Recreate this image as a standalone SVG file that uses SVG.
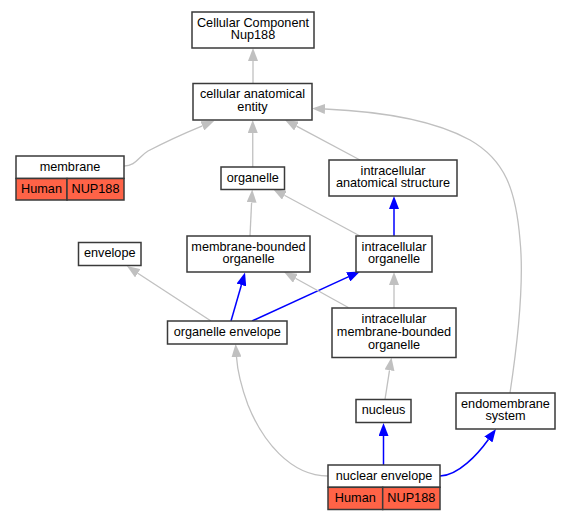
<svg xmlns="http://www.w3.org/2000/svg" width="571" height="520" viewBox="0 0 571 520">
<style>
.box{fill:#ffffff;stroke:#3a3a3a;stroke-width:1.5}
.red{fill:#ff6347;stroke:#3a3a3a;stroke-width:1.5}
text{font-family:"Liberation Sans",Arial,sans-serif;font-size:12.7px;fill:#000;text-anchor:middle}
.g{fill:none;stroke:#c0c0c0;stroke-width:1.3}
.b{fill:none;stroke:#0000ff;stroke-width:1.5}
</style>
<defs>
<marker id="ag" viewBox="0 0 13 10" refX="0" refY="5" markerWidth="13" markerHeight="10" markerUnits="userSpaceOnUse" orient="auto"><path d="M0,0 L13,5 L0,10 z" fill="#c0c0c0"/></marker>
<marker id="ab" viewBox="0 0 13 10" refX="0" refY="5" markerWidth="13" markerHeight="10" markerUnits="userSpaceOnUse" orient="auto"><path d="M0,0 L13,5 L0,10 z" fill="#0000ff"/></marker>
</defs>
<rect width="571" height="520" fill="#ffffff"/>
<g id="edges">
<path class="g" marker-end="url(#ag)" d="M253,83.5 L253,61"/>
<path class="g" marker-end="url(#ag)" d="M124,166 C136,166 138,157 148,151 C165,142 185,133 202.4,125.8"/>
<path class="g" marker-end="url(#ag)" d="M252.75,167 L252.75,133"/>
<path class="g" marker-end="url(#ag)" d="M360,160 L296.5,126.1"/>
<path class="g" marker-end="url(#ag)" d="M510,393 C518,340 524,280 520,240 C516,190 505,160 470,140 C430,118 370,111 325,109"/>
<path class="g" marker-end="url(#ag)" d="M250,236 L251.6,202.5"/>
<path class="g" marker-end="url(#ag)" d="M360,236 L284.4,195.2"/>
<path class="b" marker-end="url(#ab)" d="M394,236 L394,209"/>
<path class="g" marker-end="url(#ag)" d="M211,321 L137.8,273.2"/>
<path class="b" marker-end="url(#ab)" d="M231,321 L241.4,285"/>
<path class="b" marker-end="url(#ab)" d="M252,321 L348.2,276.9"/>
<path class="g" marker-end="url(#ag)" d="M348.3,307.5 L295.4,278.3"/>
<path class="g" marker-end="url(#ag)" d="M394,308 L394,285"/>
<path class="g" marker-end="url(#ag)" d="M385,399.5 L389.5,370.3"/>
<path class="b" marker-end="url(#ab)" d="M383.5,465 L383.5,436"/>
<path class="b" marker-end="url(#ab)" d="M440,476 C458,476 478,454 488.4,439.5"/>
<path class="g" marker-end="url(#ag)" d="M328,476 C290,476 262,440 248,405 C241,386 237.5,372 236.5,357"/>
</g>
<g id="n_cc"><rect class="box" x="192" y="12" width="122" height="36"/><text x="253" y="26.5">Cellular Component</text><text x="253" y="39">Nup188</text></g>
<g id="n_cae"><rect class="box" x="193" y="83.5" width="119" height="36.5"/><text x="252.5" y="98.3">cellular anatomical</text><text x="252.5" y="110.8">entity</text></g>
<g id="n_membrane"><rect class="box" x="16" y="156" width="108" height="22.5"/><rect class="red" x="16" y="178.5" width="51" height="21.5"/><rect class="red" x="67" y="178.5" width="57" height="21.5"/><text x="70" y="170.5">membrane</text><text x="41.5" y="192.5">Human</text><text x="95.5" y="192.5">NUP188</text></g>
<g id="n_organelle"><rect class="box" x="221" y="167" width="63.5" height="22.5"/><text x="252.75" y="181.5">organelle</text></g>
<g id="n_ias"><rect class="box" x="329" y="160" width="128" height="36"/><text x="393" y="174.5">intracellular</text><text x="393" y="187">anatomical structure</text></g>
<g id="n_envelope"><rect class="box" x="78.5" y="242.5" width="62.5" height="23"/><text x="109.75" y="257.3">envelope</text></g>
<g id="n_mbo"><rect class="box" x="187" y="236" width="123" height="36"/><text x="248.5" y="250.5">membrane-bounded</text><text x="248.5" y="263">organelle</text></g>
<g id="n_io"><rect class="box" x="356" y="236" width="76" height="36"/><text x="394" y="250.5">intracellular</text><text x="394" y="263">organelle</text></g>
<g id="n_oe"><rect class="box" x="167.5" y="321" width="119.5" height="23"/><text x="227.25" y="335.8">organelle envelope</text></g>
<g id="n_imbo"><rect class="box" x="332" y="308" width="124" height="49.5"/><text x="394" y="322.5">intracellular</text><text x="394" y="336">membrane-bounded</text><text x="394" y="348.6">organelle</text></g>
<g id="n_nucleus"><rect class="box" x="356" y="399.5" width="55" height="23"/><text x="383.5" y="414.3">nucleus</text></g>
<g id="n_endo"><rect class="box" x="456" y="393" width="99" height="36"/><text x="505.5" y="407.5">endomembrane</text><text x="505.5" y="420">system</text></g>
<g id="n_ne"><rect class="box" x="328" y="465" width="112" height="22.3"/><rect class="red" x="328" y="487.3" width="54.7" height="22.2"/><rect class="red" x="382.7" y="487.3" width="57.3" height="22.2"/><text x="384" y="479.6">nuclear envelope</text><text x="355.3" y="501.8">Human</text><text x="411.3" y="501.8">NUP188</text></g>
</svg>
